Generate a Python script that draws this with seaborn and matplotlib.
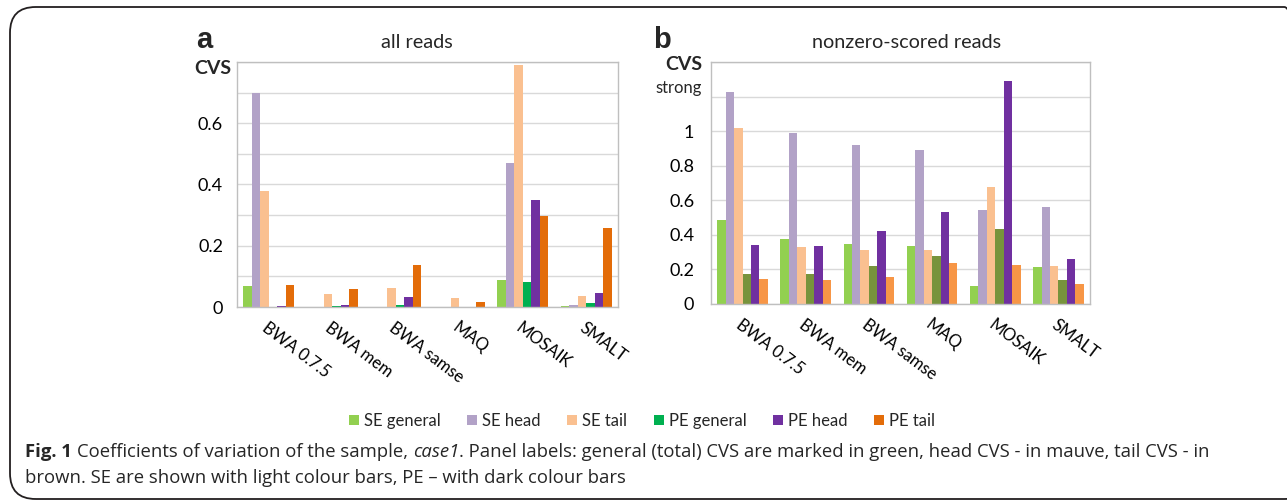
import matplotlib
matplotlib.use("Agg")
import matplotlib.pyplot as plt
import numpy as np
import pandas as pd
import seaborn as sns
from matplotlib.patches import FancyBboxPatch, Patch

tools = ["BWA 0.7.5", "BWA mem", "BWA samse", "MAQ", "MOSAIK", "SMALT"]
series = ["SE general", "SE head", "SE tail", "PE general", "PE head", "PE tail"]

# panel a: all reads
a_se_general = [0.067, 0.0, 0.0, 0.0, 0.088, 0.003]
a_se_head = [0.70, 0.0, 0.0, 0.0, 0.47, 0.005]
a_se_tail = [0.378, 0.043, 0.061, 0.028, 0.79, 0.036]
a_pe_general = [0.0, 0.004, 0.008, 0.0, 0.083, 0.013]
a_pe_head = [0.004, 0.007, 0.034, 0.0, 0.348, 0.046]
a_pe_tail = [0.071, 0.058, 0.137, 0.015, 0.298, 0.257]

# panel b: nonzero-scored reads
b_se_general = [0.487, 0.375, 0.346, 0.337, 0.106, 0.213]
b_se_head = [1.227, 0.988, 0.921, 0.892, 0.546, 0.560]
b_se_tail = [1.021, 0.329, 0.313, 0.313, 0.677, 0.217]
b_pe_general = [0.175, 0.175, 0.217, 0.279, 0.431, 0.138]
b_pe_head = [0.342, 0.337, 0.421, 0.533, 1.290, 0.263]
b_pe_tail = [0.146, 0.140, 0.158, 0.237, 0.227, 0.117]

colors_a = ["#92D050", "#B2A2C7", "#FAC090", "#00B050", "#7030A0", "#E36C09"]
colors_b = ["#92D050", "#B2A2C7", "#FAC090", "#77933C", "#7030A0", "#F79646"]


def long_frame(cols):
    rows = []
    for name, vals in zip(series, cols):
        for tool, v in zip(tools, vals):
            rows.append({"tool": tool, "series": name, "cvs": v})
    return pd.DataFrame(rows)


df_a = long_frame([a_se_general, a_se_head, a_se_tail, a_pe_general, a_pe_head, a_pe_tail])
df_b = long_frame([b_se_general, b_se_head, b_se_tail, b_pe_general, b_pe_head, b_pe_tail])

sns.set_style("white")
plt.rcParams["font.family"] = ["Lato", "DejaVu Sans"]

W, H = 1287, 501
fig = plt.figure(figsize=(W / 100, H / 100), dpi=100)


def px_axes(x0, y0, x1, y1):
    return fig.add_axes([x0 / W, 1 - y1 / H, (x1 - x0) / W, (y1 - y0) / H])


def style_panel(ax, df, colors, ymax, step, label_max, ypad):
    sns.barplot(data=df, x="tool", y="cvs", hue="series", hue_order=series,
                order=tools, palette=colors, width=0.8, gap=0, saturation=1,
                edgecolor="none", legend=False, ax=ax)
    ax.set_ylim(0, ymax)
    ax.set_xlim(-0.5, len(tools) - 0.5)
    ticks = np.round(np.arange(0, ymax + 1e-9, step), 2)
    ax.set_yticks(ticks)
    labels = []
    for t in ticks:
        even = abs(t / 0.2 - round(t / 0.2)) < 1e-6
        if t > label_max + 1e-9 or not even:
            labels.append("")
        else:
            labels.append("0" if t == 0 else f"{t:g}")
    ax.set_yticklabels(labels)
    ax.grid(axis="y", color="#D9D9D9", linewidth=1.0)
    ax.set_axisbelow(True)
    for s in ax.spines.values():
        s.set_color("#BFBFBF")
        s.set_linewidth(1.0)
    ax.set_xlabel("")
    ax.set_ylabel("")
    ax.tick_params(axis="both", length=0, colors="#000000")
    ax.tick_params(axis="y", pad=ypad, labelsize=13)
    ax.tick_params(axis="x", pad=9, labelsize=12)
    for lab in ax.get_xticklabels():
        lab.set_rotation(-37)
        lab.set_ha("left")
        lab.set_va("top")
        lab.set_rotation_mode("anchor")


ax_a = px_axes(237, 62, 618, 307)
style_panel(ax_a, df_a, colors_a, 0.8, 0.1, 0.6, 10)
ax_b = px_axes(711, 62, 1090, 304)
style_panel(ax_b, df_b, colors_b, 1.4, 0.2, 1.0, 12)

# panel letters, titles, axis captions
fig.text(196 / W, 1 - 40 / H, "a", fontsize=21, fontweight="bold",
         family=["Liberation Sans", "DejaVu Sans"], ha="left", va="center")
fig.text(653 / W, 1 - 40 / H, "b", fontsize=21, fontweight="bold",
         family=["Liberation Sans", "DejaVu Sans"], ha="left", va="center")
fig.text(417 / W, 1 - 42 / H, "all reads", fontsize=14.3, ha="center", va="center")
fig.text(907 / W, 1 - 42 / H, "nonzero-scored reads", fontsize=14.3, ha="center", va="center")
fig.text(231 / W, 1 - 68 / H, "CVS", fontsize=14, fontweight="bold", ha="right", va="center")
fig.text(702 / W, 1 - 64 / H, "CVS", fontsize=14, fontweight="bold", ha="right", va="center")
fig.text(702 / W, 1 - 88 / H, "strong", fontsize=12, ha="right", va="center")

# legend
handles = [Patch(facecolor=c, edgecolor="none", label=s) for c, s in zip(colors_a, series)]
fig.legend(handles=handles, loc="center", bbox_to_anchor=(642 / W, 1 - 421 / H),
           ncol=6, frameon=False, fontsize=12, handlelength=0.6, handleheight=0.6,
           handletextpad=0.3, columnspacing=1.6)

# caption
cap_font = ["Open Sans", "DejaVu Sans"]
cap_size = 13.3
y1 = 1 - 452 / H
t = fig.text(25 / W, y1, "Fig. 1", fontsize=cap_size, fontweight="bold", family=cap_font,
             ha="left", va="center")
fig.canvas.draw()
x_next = t.get_window_extent().x1 / W + 5 / W
t2 = fig.text(x_next, y1, "Coefficients of variation of the sample, ", fontsize=cap_size,
              family=cap_font, ha="left", va="center")
fig.canvas.draw()
x_next = t2.get_window_extent().x1 / W
t3 = fig.text(x_next, y1, "case1", fontsize=cap_size, style="italic", family=cap_font,
              ha="left", va="center")
fig.canvas.draw()
x_next = t3.get_window_extent().x1 / W
fig.text(x_next, y1, ". Panel labels: general (total) CVS are marked in green, head CVS - in mauve, tail CVS - in",
         fontsize=cap_size, family=cap_font, ha="left", va="center")
fig.text(25 / W, 1 - 478 / H, "brown. SE are shown with light colour bars, PE \u2013 with dark colour bars",
         fontsize=cap_size, family=cap_font, ha="left", va="center")

# rounded frame around the figure
frame = FancyBboxPatch((10 / W, 1 - 499 / H), 1300 / W, 492 / H,
                       boxstyle="round,pad=0,rounding_size=0.02",
                       transform=fig.transFigure, facecolor="none",
                       edgecolor="#231F20", linewidth=1.3, clip_on=False,
                       mutation_aspect=W / H)
fig.patches.append(frame)

fig.savefig("out.png", dpi=100)
